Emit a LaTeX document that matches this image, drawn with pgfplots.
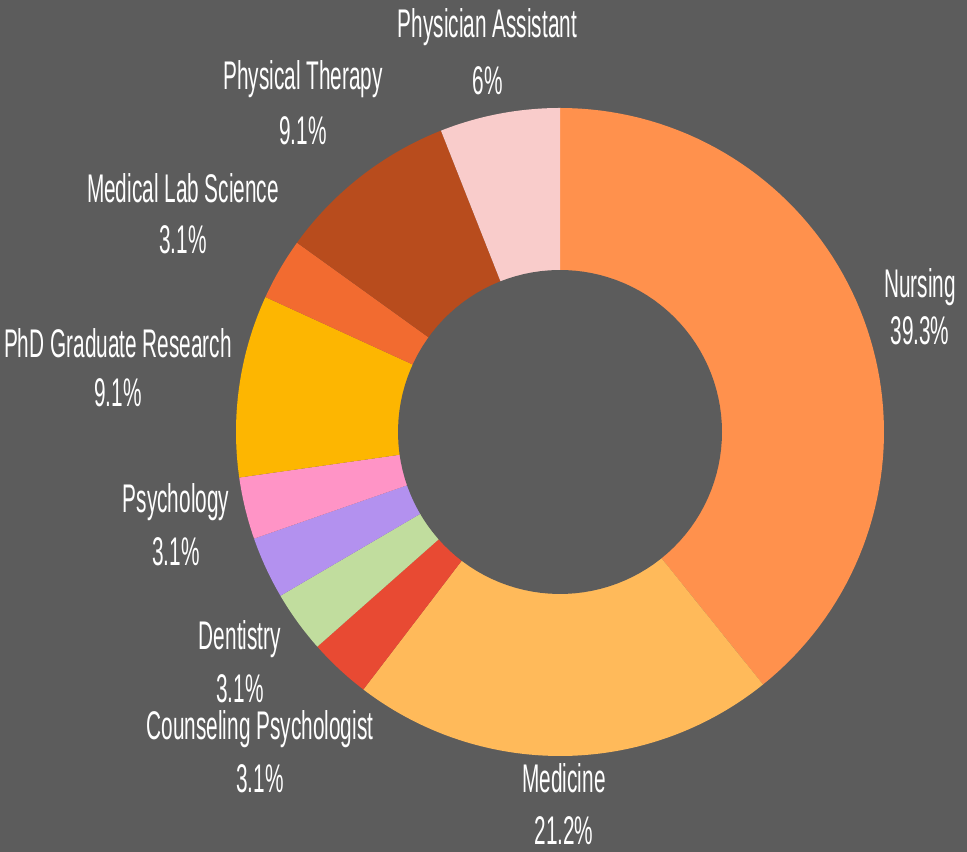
\documentclass[border=0pt]{standalone}
\usepackage{pgfplots}
\usepackage{pgfplotstable}
\pgfplotsset{compat=1.18}
\usepackage{fontspec}
\setmainfont{Liberation Sans}[FakeStretch=0.52]
\definecolor{bg}{HTML}{5C5C5C}
\definecolor{c0}{HTML}{FF914D}
\definecolor{c1}{HTML}{FFBA5A}
\definecolor{c2}{HTML}{E84A33}
\definecolor{c3}{HTML}{C1DD9E}
\definecolor{c4}{HTML}{B391EF}
\definecolor{c5}{HTML}{FF94C6}
\definecolor{c6}{HTML}{FDB601}
\definecolor{c7}{HTML}{F26B30}
\definecolor{c8}{HTML}{B84C1D}
\definecolor{c9}{HTML}{F9CCCB}
\tikzset{lbl/.style={anchor=base, text=white, inner sep=0pt, font=\fontsize{30}{33}\selectfont}}
\pgfplotstableread{
val
39.3
21.2
3.1
3.1
3.1
3.1
9.1
3.1
9.1
6
}\piedata
\begin{document}
\begin{tikzpicture}
\fill[bg] (0,0) rectangle (725.25pt,639pt);
\useasboundingbox (0,0) rectangle (725.25pt,639pt);
\begin{axis}[
  at={(0,0)}, anchor=south west,
  width=725.25pt, height=639pt, scale only axis,
  xmin=-1.7284, xmax=1.2562, ymin=-1.2963, ymax=1.3333,
  hide axis, clip=false,
]
\def\cum{0}
\def\total{100.2}
\pgfplotsforeachungrouped \i in {0,...,9}{%
  \pgfplotstablegetelem{\i}{val}\of\piedata
  \let\v\pgfplotsretval
  \pgfmathsetmacro\a{90-360*(\cum/\total)}%
  \pgfmathsetmacro\cum{\cum+\v}%
  \pgfmathsetmacro\b{90-360*(\cum/\total)}%
  \edef\cmd{\noexpand\addplot[draw=none, fill=c\i, samples=80, domain=\b:\a, variable=\noexpand\t] ({cos(\noexpand\t)},{sin(\noexpand\t)}) -- (axis cs:0,0) -- cycle;}%
  \cmd
}
\addplot[draw=none, fill=bg, samples=120, domain=0:360, variable=\t] ({0.5*cos(\t)},{0.5*sin(\t)}) -- cycle;

\node[lbl] at (axis cs:-0.2238,1.2160) {Physician Assistant};
\node[lbl] at (axis cs:-0.2238,1.0401) {6\%};
\node[lbl] at (axis cs:-0.7932,1.0556) {Physical Therapy};
\node[lbl] at (axis cs:-0.7932,0.8858) {9.1\%};
\node[lbl] at (axis cs:-1.1636,0.7068) {Medical Lab Science};
\node[lbl] at (axis cs:-1.1636,0.5494) {3.1\%};
\node[lbl] at (axis cs:-1.3642,0.2284) {PhD Graduate Research};
\node[lbl] at (axis cs:-1.3642,0.0772) {9.1\%};
\node[lbl] at (axis cs:-1.1852,-0.2500) {Psychology};
\node[lbl] at (axis cs:-1.1852,-0.4136) {3.1\%};
\node[lbl] at (axis cs:-0.9877,-0.6698) {Dentistry};
\node[lbl] at (axis cs:-0.9877,-0.8364) {3.1\%};
\node[lbl] at (axis cs:-0.9259,-0.9506) {Counseling Psychologist};
\node[lbl] at (axis cs:-0.9259,-1.1142) {3.1\%};
\node[lbl] at (axis cs:0.0123,-1.1142) {Medicine};
\node[lbl] at (axis cs:0.0123,-1.2747) {21.2\%};
\node[lbl] at (axis cs:1.1111,0.4136) {Nursing};
\node[lbl] at (axis cs:1.1111,0.2685) {39.3\%};
\end{axis}
\end{tikzpicture}
\end{document}
